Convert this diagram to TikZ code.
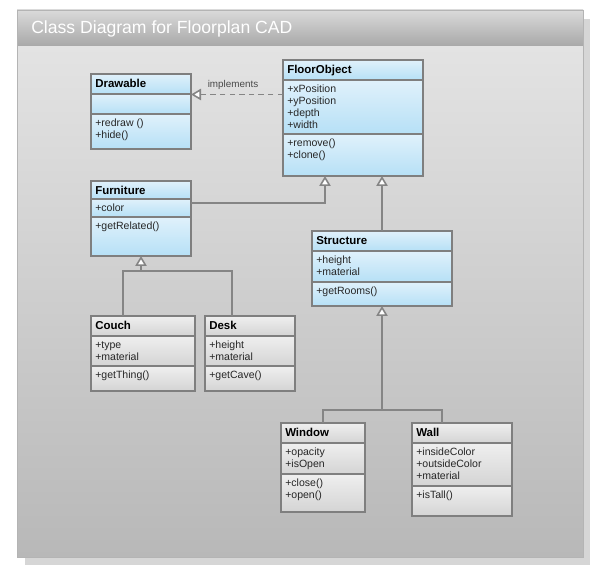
\documentclass[tikz,border=0pt]{standalone}
\usepackage{fontspec}
\setmainfont{Liberation Sans}
\usetikzlibrary{arrows.meta,calc,fit}
\definecolor{bordc}{HTML}{7F7F7F}
\definecolor{connc}{HTML}{858585}
\definecolor{bluetop}{HTML}{E0F1FB}
\definecolor{bluebot}{HTML}{B6E0F6}
\definecolor{graytop}{HTML}{EFEFEF}
\definecolor{graybot}{HTML}{D4D4D4}
\definecolor{shadowc}{HTML}{D6D6D6}
\definecolor{paneltop}{HTML}{E3E3E3}
\definecolor{panelbot}{HTML}{B8B8B8}
\definecolor{panelborder}{HTML}{B4B4B4}
\definecolor{titletop}{HTML}{DADADA}
\definecolor{titlebot}{HTML}{A8A8A8}
\definecolor{labelc}{HTML}{4A4A4A}

\newcommand\umlcompart[5]{%
  \shade[top color=#5top, bottom color=#5bot] (#1,#2) rectangle ({#1+#3},#4);}
\newcommand\umlclass[9]{% name, x, y, w, header bottom, attr bottom, bottom, scheme, title
  \umlcompart{#2}{#3}{#4}{#5}{#8}
  \umlcompart{#2}{#5}{#4}{#6}{#8}
  \umlcompart{#2}{#6}{#4}{#7}{#8}
  \draw[sepline] (#2,#5) -- ++(#4,0);
  \draw[sepline] (#2,#6) -- ++(#4,0);
  \node[boxframe, fit={(#2,#3) ({#2+#4},#7)}] (#1) {};
  \node[classtitle] (#1-title) at ({#2+4},{#3+13.5}) {#9};
}
\newcommand\umlmembers[5]{% name, tag, x, separator y, list
  \foreach \m [count=\i] in {#5} {%
    \node[member] (#1-#2\i) at ({#3+4},{#4+13+12*(\i-1)}) {\m};}%
}

\begin{document}
\begin{tikzpicture}[x=0.75pt,y=-0.75pt,
  sepline/.style={draw=bordc, line width=1.1pt},
  boxframe/.style={draw=bordc, line width=1.2pt, inner sep=0pt, outer sep=0pt},
  classtitle/.style={anchor=base west, inner sep=0pt, font=\fontsize{8.6}{10}\selectfont\bfseries, text=black},
  member/.style={anchor=base west, inner sep=0pt, font=\fontsize{7.9}{9}\selectfont, text=black!85},
  conn/.style={draw=connc, line width=1.2pt},
  gen/.style={conn, -{Triangle[fill=white, length=7.5pt, width=8.5pt]}},
  realize/.style={gen, dash pattern=on 4pt off 3.2pt},
  lbl/.style={font=\fontsize{7.4}{8}\selectfont, text=labelc, inner sep=1pt}
]
\useasboundingbox (0,0) rectangle (601,573);
% frame
\fill[shadowc] (25,19) rectangle (590,565);
\shade[top color=paneltop, bottom color=panelbot] (17,46) rectangle (583,557);
\shade[top color=titletop, bottom color=titlebot] (17,10) rectangle (583,46);
\draw[panelborder, line width=0.6pt] (17,10) rectangle (583,557);
\node[anchor=base west, inner sep=0pt, text=white, font=\fontsize{13.2}{15}\selectfont] (title) at (31,33.3) {Class Diagram for Floorplan CAD};

% classes
\umlclass{drawable}{91}{74}{100}{94}{114}{149}{blue}{Drawable}
\umlmembers{drawable}{m}{91}{114}{+redraw (),+hide()}

\umlclass{floorobject}{283}{60}{140}{80}{134}{176}{blue}{FloorObject}
\umlmembers{floorobject}{a}{283}{80}{+xPosition,+yPosition,+depth,+width}
\umlmembers{floorobject}{m}{283}{134}{+remove(),+clone()}

\umlclass{furniture}{91}{181}{100}{199}{217}{256}{blue}{Furniture}
\umlmembers{furniture}{a}{91}{199}{+color}
\umlmembers{furniture}{m}{91}{217}{+getRelated()}

\umlclass{structure}{312}{231}{140}{251}{282}{306}{blue}{Structure}
\umlmembers{structure}{a}{312}{251}{+height,+material}
\umlmembers{structure}{m}{312}{282}{+getRooms()}

\umlclass{couch}{91}{316}{104}{336}{366}{391}{gray}{Couch}
\umlmembers{couch}{a}{91}{336}{+type,+material}
\umlmembers{couch}{m}{91}{366}{+getThing()}

\umlclass{desk}{205}{316}{90}{336}{366}{391}{gray}{Desk}
\umlmembers{desk}{a}{205}{336}{+height,+material}
\umlmembers{desk}{m}{205}{366}{+getCave()}

\umlclass{window}{281}{423}{84}{443}{474}{512}{gray}{Window}
\umlmembers{window}{a}{281}{443}{+opacity,+isOpen}
\umlmembers{window}{m}{281}{474}{+close(),+open()}

\umlclass{wall}{412}{423}{100}{443}{486}{516}{gray}{Wall}
\umlmembers{wall}{a}{412}{443}{+insideColor,+outsideColor,+material}
\umlmembers{wall}{m}{412}{486}{+isTall()}

% connectors
\coordinate (impl) at ($(floorobject.north west)+(0,34.5)$);
\draw[realize] (impl) -- node[lbl, above=2pt, xshift=-3pt] (impllabel) {implements} (impl -| drawable.east);

\coordinate (furnout) at ($(furniture.north east)+(0,22)$);
\coordinate (fo1) at ($(floorobject.south west)+(42,0)$);
\draw[gen] (furnout) -| (fo1);

\coordinate (strin) at ($(structure.north west)+(70,0)$);
\draw[gen] (strin) -- (strin |- floorobject.south);

\coordinate (fj) at ($(furniture.south)+(0,15)$);
\coordinate (couchin) at ($(couch.north west)+(32,0)$);
\coordinate (deskin) at ($(desk.north west)+(27,0)$);
\draw[conn] (couchin) |- (fj) -| (deskin);
\draw[gen] (fj) -- (furniture.south);

\coordinate (sj) at ($(structure.south)+(0,104)$);
\coordinate (wallin) at ($(wall.north west)+(30,0)$);
\draw[conn] (window.north) |- (sj) -| (wallin);
\draw[gen] (sj) -- (structure.south);
\end{tikzpicture}
\end{document}
